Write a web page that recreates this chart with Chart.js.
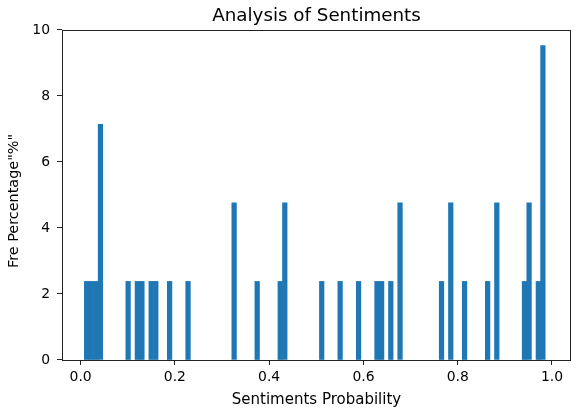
<!DOCTYPE html>
<html><head><meta charset="utf-8">
<script src="https://cdn.jsdelivr.net/npm/chart.js@4.4.1/dist/chart.umd.min.js"></script>
<style>html,body{margin:0;padding:0;background:#fff}#wrap{width:580px;height:415px;position:relative}</style>
</head><body><div id="wrap"><canvas id="c"></canvas></div>
<script>
// Histogram bins (centres) that hold at least one observation, and their share in percent
const binCenters = [0.0128, 0.0226, 0.0324, 0.0421, 0.1008, 0.1204, 0.1301, 0.1497, 0.1595, 0.1888,
  0.2279, 0.3257, 0.3746, 0.4235, 0.4332, 0.5115, 0.5506, 0.5897, 0.6288, 0.6386,
  0.6581, 0.6777, 0.7657, 0.7853, 0.8146, 0.8635, 0.8830, 0.9417, 0.9515, 0.9711, 0.9808];
const frequencies = [2.381, 2.381, 2.381, 7.143, 2.381, 2.381, 2.381, 2.381, 2.381, 2.381,
  2.381, 4.762, 2.381, 2.381, 4.762, 2.381, 2.381, 2.381, 2.381, 2.381,
  2.381, 4.762, 2.381, 4.762, 2.381, 2.381, 4.762, 2.381, 4.762, 2.381, 9.524];
const xTickValues = [0, 0.2, 0.4, 0.6, 0.8, 1.0];
const xTickLabels = ["0.0", "0.2", "0.4", "0.6", "0.8", "1.0"];
const yTickValues = [0, 2, 4, 6, 8, 10];
const yTickLabels = ["0", "2", "4", "6", "8", "10"];
const chartTitle = "Analysis of Sentiments";
const xAxisTitle = "Sentiments Probability";
const yAxisTitle = 'Fre Percentage"%"';

const FONT = 'DejaVu Sans';
const frame = {
  id: 'frame',
  afterDatasetsDraw(chart) {
    const a = chart.chartArea, ctx = chart.ctx;
    ctx.save();
    ctx.strokeStyle = '#222';
    ctx.lineWidth = 1;
    const l = Math.round(a.left) + 0.5, r = Math.round(a.right) - 0.5;
    const t = Math.round(a.top) + 0.5, b = Math.round(a.bottom) + 0.5;
    ctx.strokeRect(l, t, r - l, b - t);
    ctx.restore();
  }
};
// y-axis title, centred like matplotlib's label
const yTitle = {
  id: 'yTitle',
  afterDraw(chart) {
    const ctx = chart.ctx;
    ctx.save();
    ctx.translate(14.7, 201);
    ctx.rotate(-Math.PI / 2);
    ctx.fillStyle = '#000';
    ctx.font = '14.4px "DejaVu Sans"';
    ctx.textAlign = 'center';
    ctx.textBaseline = 'middle';
    ctx.fillText(yAxisTitle, 0, 0);
    ctx.restore();
  }
};

new Chart(document.getElementById('c'), {
  type: 'bar',
  data: {
    datasets: [{
      data: binCenters.map((x, i) => ({x: x, y: frequencies[i]})),
      backgroundColor: '#1f77b4',
      borderWidth: 0,
      categoryPercentage: 1.0,
      barPercentage: 1.0
    }]
  },
  options: {
    responsive: true,
    maintainAspectRatio: false,
    animation: false,
    devicePixelRatio: 1,
    layout: {padding: {left: 0, right: 9, top: 0, bottom: 0}},
    plugins: {
      legend: {display: false},
      tooltip: {enabled: false},
      title: {
        display: true, text: chartTitle, fullSize: false,
        color: '#000', font: {family: FONT, size: 18.3, weight: 'normal'},
        padding: {top: 5, bottom: 3}
      }
    },
    scales: {
      x: {
        type: 'linear', min: -0.0395, max: 1.0404, offset: false,
        afterBuildTicks: s => { s.ticks = xTickValues.map(v => ({value: v})); },
        afterFit: s => { s.height = 55; },
        ticks: {
          callback: (v, i) => xTickLabels[i], color: '#000',
          font: {family: FONT, size: 13.9}, padding: 4, maxRotation: 0, autoSkip: false
        },
        grid: {display: true, offset: false, drawOnChartArea: false, drawTicks: true, tickLength: 5, tickColor: '#222', tickWidth: 1},
        border: {display: false},
        title: {display: true, text: xAxisTitle, color: '#000', font: {family: FONT, size: 15}, padding: {top: 0, bottom: 6}}
      },
      y: {
        min: 0, max: 10,
        afterBuildTicks: s => { s.ticks = yTickValues.map(v => ({value: v})); },
        afterFit: s => { s.width = 62; },
        ticks: {
          callback: (v, i) => yTickLabels[i], color: '#000',
          font: {family: FONT, size: 13.9}, padding: 7, autoSkip: false
        },
        grid: {display: true, drawOnChartArea: false, drawTicks: true, tickLength: 5, tickColor: '#222', tickWidth: 1},
        border: {display: false},
        title: {display: false}
      }
    }
  },
  plugins: [frame, yTitle]
});
</script></body></html>
